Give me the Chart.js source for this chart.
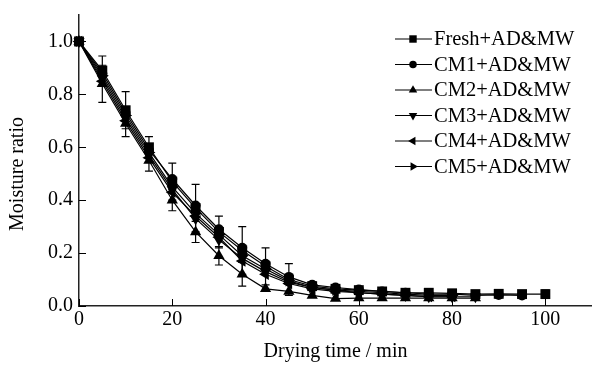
<!DOCTYPE html>
<html>
<head>
<meta charset="utf-8">
<script src="https://cdn.jsdelivr.net/npm/chart.js@4/dist/chart.umd.min.js"></script>
<style>
body { margin: 0; background: #fff; }
</style>
</head>
<body>
<canvas id="myChart" width="592" height="365"></canvas>
<script>
var time = [0, 5, 10, 15, 20, 25, 30, 35, 40, 45, 50, 55, 60, 65, 70, 75, 80, 85, 90, 95, 100];
var names = ['Fresh+AD&MW', 'CM1+AD&MW', 'CM2+AD&MW', 'CM3+AD&MW', 'CM4+AD&MW', 'CM5+AD&MW'];

// moisture ratio per sample
var fresh = [1.0, 0.89, 0.74, 0.60, 0.47, 0.37, 0.28, 0.21, 0.15, 0.10, 0.075, 0.065, 0.06, 0.055, 0.05, 0.05, 0.048, 0.045, 0.046, 0.045, 0.045];
var cm1 = [1.0, 0.88, 0.73, 0.59, 0.48, 0.38, 0.29, 0.22, 0.16, 0.11, 0.08, 0.07, 0.062, 0.055, 0.05, 0.045, 0.045, 0.04, 0.042, 0.04];
var cm2 = [1.0, 0.84, 0.69, 0.55, 0.40, 0.28, 0.19, 0.12, 0.065, 0.055, 0.04, 0.028, 0.03, 0.03, 0.03, 0.03, 0.03, 0.03];
var cm3 = [1.0, 0.86, 0.71, 0.57, 0.44, 0.33, 0.25, 0.18, 0.13, 0.09, 0.07, 0.06, 0.05, 0.045, 0.04, 0.035, 0.035, 0.035];
var cm4 = [1.0, 0.85, 0.70, 0.56, 0.43, 0.34, 0.26, 0.17, 0.12, 0.085, 0.065, 0.055, 0.05, 0.045, 0.04, 0.035, 0.035];
var cm5 = [1.0, 0.87, 0.72, 0.58, 0.45, 0.35, 0.27, 0.19, 0.14, 0.095, 0.07, 0.06, 0.055, 0.05, 0.045, 0.04, 0.04];

// standard deviations (error bars)
var freshErr = [0, 0.055, 0.07, 0.04, 0.07, 0.09, 0.06, 0.09, 0.07, 0.06, 0, 0, 0, 0, 0, 0, 0, 0, 0, 0, 0.015];
var cm2Err = [0, 0.07, 0.05, 0.04, 0.04, 0.04, 0.035, 0.045, 0, 0, 0, 0, 0, 0, 0, 0, 0, 0];

var xTicks = [0, 20, 40, 60, 80, 100];
var yTicks = [0, 0.2, 0.4, 0.6, 0.8, 1.0];

var series = [fresh, cm1, cm2, cm3, cm4, cm5];
var errs = [freshErr, null, cm2Err, null, null, null];
var styles = [
    { pointStyle: 'rect', rotation: 0, radius: 7 },
    { pointStyle: 'circle', rotation: 0, radius: 5 },
    { pointStyle: 'triangle', rotation: 0, radius: 6.5 },
    { pointStyle: 'triangle', rotation: 180, radius: 6.5 },
    { pointStyle: 'triangle', rotation: 270, radius: 6.5 },
    { pointStyle: 'triangle', rotation: 90, radius: 6.5 }
];

var font = 'Liberation Serif';

var datasets = series.map(function (vals, k) {
    return {
        label: names[k],
        data: vals.map(function (v, i) { return { x: time[i], y: v }; }),
        err: errs[k],
        borderColor: '#000',
        backgroundColor: '#000',
        borderWidth: 1.2,
        pointStyle: styles[k].pointStyle,
        pointRotation: styles[k].rotation,
        pointRadius: styles[k].radius,
        pointBorderWidth: 0,
        tension: 0,
        clip: false
    };
});

// error bars drawn through the scales
var errorBars = {
    id: 'errorBars',
    afterDatasetsDraw: function (chart) {
        var ctx = chart.ctx;
        var xs = chart.scales.x, ys = chart.scales.y;
        ctx.save();
        ctx.strokeStyle = '#000';
        ctx.lineWidth = 1.2;
        chart.data.datasets.forEach(function (ds) {
            if (!ds.err) return;
            ds.data.forEach(function (p, i) {
                var e = ds.err[i];
                if (!e) return;
                var px = xs.getPixelForValue(p.x);
                var top = ys.getPixelForValue(p.y + e);
                var bot = ys.getPixelForValue(p.y - e);
                ctx.beginPath();
                ctx.moveTo(px, top); ctx.lineTo(px, bot);
                ctx.moveTo(px - 4, top); ctx.lineTo(px + 4, top);
                ctx.moveTo(px - 4, bot); ctx.lineTo(px + 4, bot);
                ctx.stroke();
            });
        });
        ctx.restore();
    }
};

// inward tick marks + y title
var innerTicks = {
    id: 'innerTicks',
    afterDraw: function (chart) {
        var ctx = chart.ctx;
        var xs = chart.scales.x, ys = chart.scales.y;
        ctx.save();
        ctx.strokeStyle = '#000';
        ctx.lineWidth = 1;
        ctx.beginPath();
        xTicks.forEach(function (t) {
            var px = Math.round(xs.getPixelForValue(t)) + 0.5;
            ctx.moveTo(px, ys.bottom); ctx.lineTo(px, ys.bottom - 7);
        });
        yTicks.forEach(function (t) {
            var py = Math.round(ys.getPixelForValue(t)) + 0.5;
            ctx.moveTo(xs.left, py); ctx.lineTo(xs.left + 7, py);
        });
        ctx.stroke();

        ctx.fillStyle = '#000';
        ctx.font = '20px "' + font + '"';
        ctx.textAlign = 'center';
        ctx.textBaseline = 'middle';
        ctx.translate(18, 174);
        ctx.rotate(-Math.PI / 2);
        ctx.fillText('Moisture ratio', 0, 0);
        ctx.restore();
    }
};

// legend in the top right corner
var cornerLegend = {
    id: 'cornerLegend',
    afterDraw: function (chart) {
        var ctx = chart.ctx;
        ctx.save();
        ctx.font = '20.5px "' + font + '"';
        ctx.textBaseline = 'middle';
        ctx.fillStyle = '#000';
        ctx.strokeStyle = '#000';
        chart.data.datasets.forEach(function (ds, k) {
            var y = 39 + k * 25.5;
            ctx.lineWidth = 1.2;
            ctx.beginPath();
            ctx.moveTo(395, y); ctx.lineTo(432, y);
            ctx.stroke();
            Chart.helpers.drawPoint(ctx, {
                pointStyle: ds.pointStyle,
                rotation: ds.pointRotation,
                radius: ds.pointRadius * 0.75,
                borderWidth: 0
            }, 413, y);
            ctx.fillText(ds.label, 434, y + 1);
        });
        ctx.restore();
    }
};

var ctx = document.getElementById('myChart').getContext('2d');
var chart = new Chart(ctx, {
    type: 'line',
    data: { datasets: datasets },
    plugins: [errorBars, innerTicks, cornerLegend],
    options: {
        responsive: false,
        animation: false,
        layout: { autoPadding: false, padding: { top: 15, right: 0, left: 0, bottom: 0 } },
        plugins: { legend: { display: false }, tooltip: { enabled: false } },
        scales: {
            x: {
                type: 'linear',
                min: 0,
                max: 110,
                afterBuildTicks: function (s) { s.ticks = xTicks.map(function (v) { return { value: v }; }); },
                afterFit: function (s) { s.height = 59; s.paddingRight = 0; s.paddingLeft = 0; },
                grid: { display: false, drawTicks: false },
                border: { display: true, color: '#222', width: 1.5 },
                ticks: { color: '#000', font: { family: font, size: 20 }, padding: 2, maxRotation: 0 },
                title: { display: true, text: 'Drying time / min', color: '#000', font: { family: font, size: 20 }, padding: { top: 0, bottom: 1 } }
            },
            y: {
                type: 'linear',
                min: 0,
                max: 1.1,
                afterBuildTicks: function (s) { s.ticks = yTicks.map(function (v) { return { value: v }; }); },
                afterFit: function (s) { s.width = 79; s.paddingTop = 0; s.paddingBottom = 0; },
                grid: { display: false, drawTicks: false },
                border: { display: true, color: '#222', width: 1.5 },
                ticks: {
                    color: '#000', font: { family: font, size: 20 }, padding: 6,
                    callback: function (v) { return v.toFixed(1); }
                },
                title: { display: false }
            }
        }
    }
});
</script>
</body>
</html>
